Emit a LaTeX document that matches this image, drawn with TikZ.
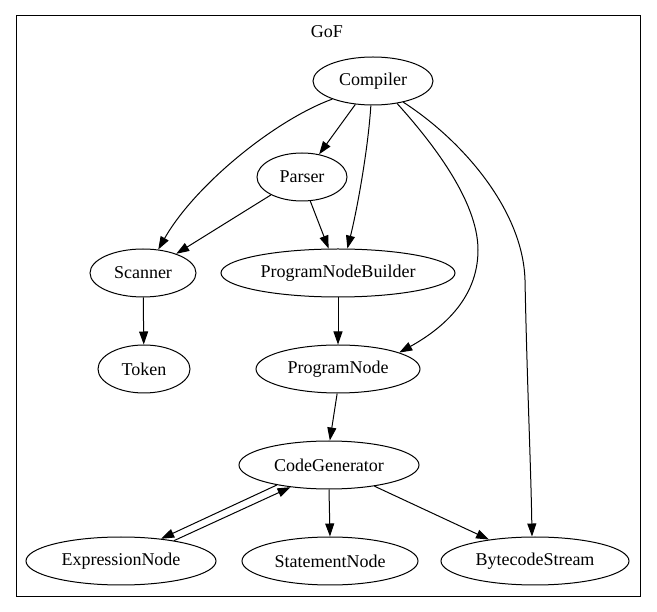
\documentclass[tikz,border=0pt]{standalone}
\usepackage{fontspec}
\setmainfont{Liberation Serif}
\newfontfamily\gvfont{Liberation Serif}
\usetikzlibrary{shapes.geometric,arrows.meta}
\begin{document}
\begin{tikzpicture}[x=1pt,y=-1pt,
  gnode/.style={draw, ellipse, inner sep=0pt, minimum height=48pt, line width=1pt, font=\gvfont\fontsize{18}{21}\selectfont},
  edge/.style={draw, line width=1pt, -{Triangle[length=13pt,width=9pt]}},
  clusterbox/.style={draw, line width=1pt, inner sep=0pt, anchor=north west}]
\useasboundingbox (0,0) rectangle (657,612);
\node[clusterbox, minimum width=624pt, minimum height=581pt] (cluster) at (16,15) {};
\node[font=\gvfont\fontsize{18}{21}\selectfont] (title) at (327,32) {GoF};

\node[gnode, minimum width=120pt] (Compiler) at (373,81) {Compiler};
\node[gnode, minimum width=90pt] (Parser) at (302,177) {Parser};
\node[gnode, minimum width=106pt] (Scanner) at (143,273) {Scanner};
\node[gnode, minimum width=234pt] (PNB) at (338,273) {ProgramNodeBuilder};
\node[gnode, minimum width=92pt] (Token) at (144,369) {Token};
\node[gnode, minimum width=164pt] (PN) at (338,369) {ProgramNode};
\node[gnode, minimum width=180pt] (CG) at (329,465) {CodeGenerator};
\node[gnode, minimum width=190pt] (EN) at (121,561) {ExpressionNode};
\node[gnode, minimum width=176pt] (SN) at (330,561) {StatementNode};
\node[gnode, minimum width=188pt] (BS) at (535,561) {BytecodeStream};

\draw[edge] (Compiler.233) -- (Parser.53);
\draw[edge] (Compiler.204) .. controls (275,120) and (195,185) .. (Scanner.57);
\draw[edge] (Parser.210) -- (Scanner.30);
\draw[edge] (Parser.289) -- (PNB.111);
\draw[edge] (Compiler.265) .. controls (368,150) and (357,210) .. (PNB.69);
\draw[edge] (Compiler.317) .. controls (430,140) and (478,200) .. (478,250) .. controls (478,300) and (440,330) .. (PN.15);
\draw[edge] (Compiler.325) .. controls (462,140) and (523,210) .. (525,280) .. controls (527,380) and (531,470) .. (BS.97);
\draw[edge] (Scanner) -- (Token);
\draw[edge] (PNB) -- (PN);
\draw[edge] (PN.268) -- (CG.88);
\draw[edge] (CG.south) -- (SN.north);
\draw[edge] (CG.335) -- (BS.155);
\draw[edge] (CG.201) -- (EN.29);
\draw[edge] (EN.21) -- (CG.210);
\end{tikzpicture}
\end{document}
